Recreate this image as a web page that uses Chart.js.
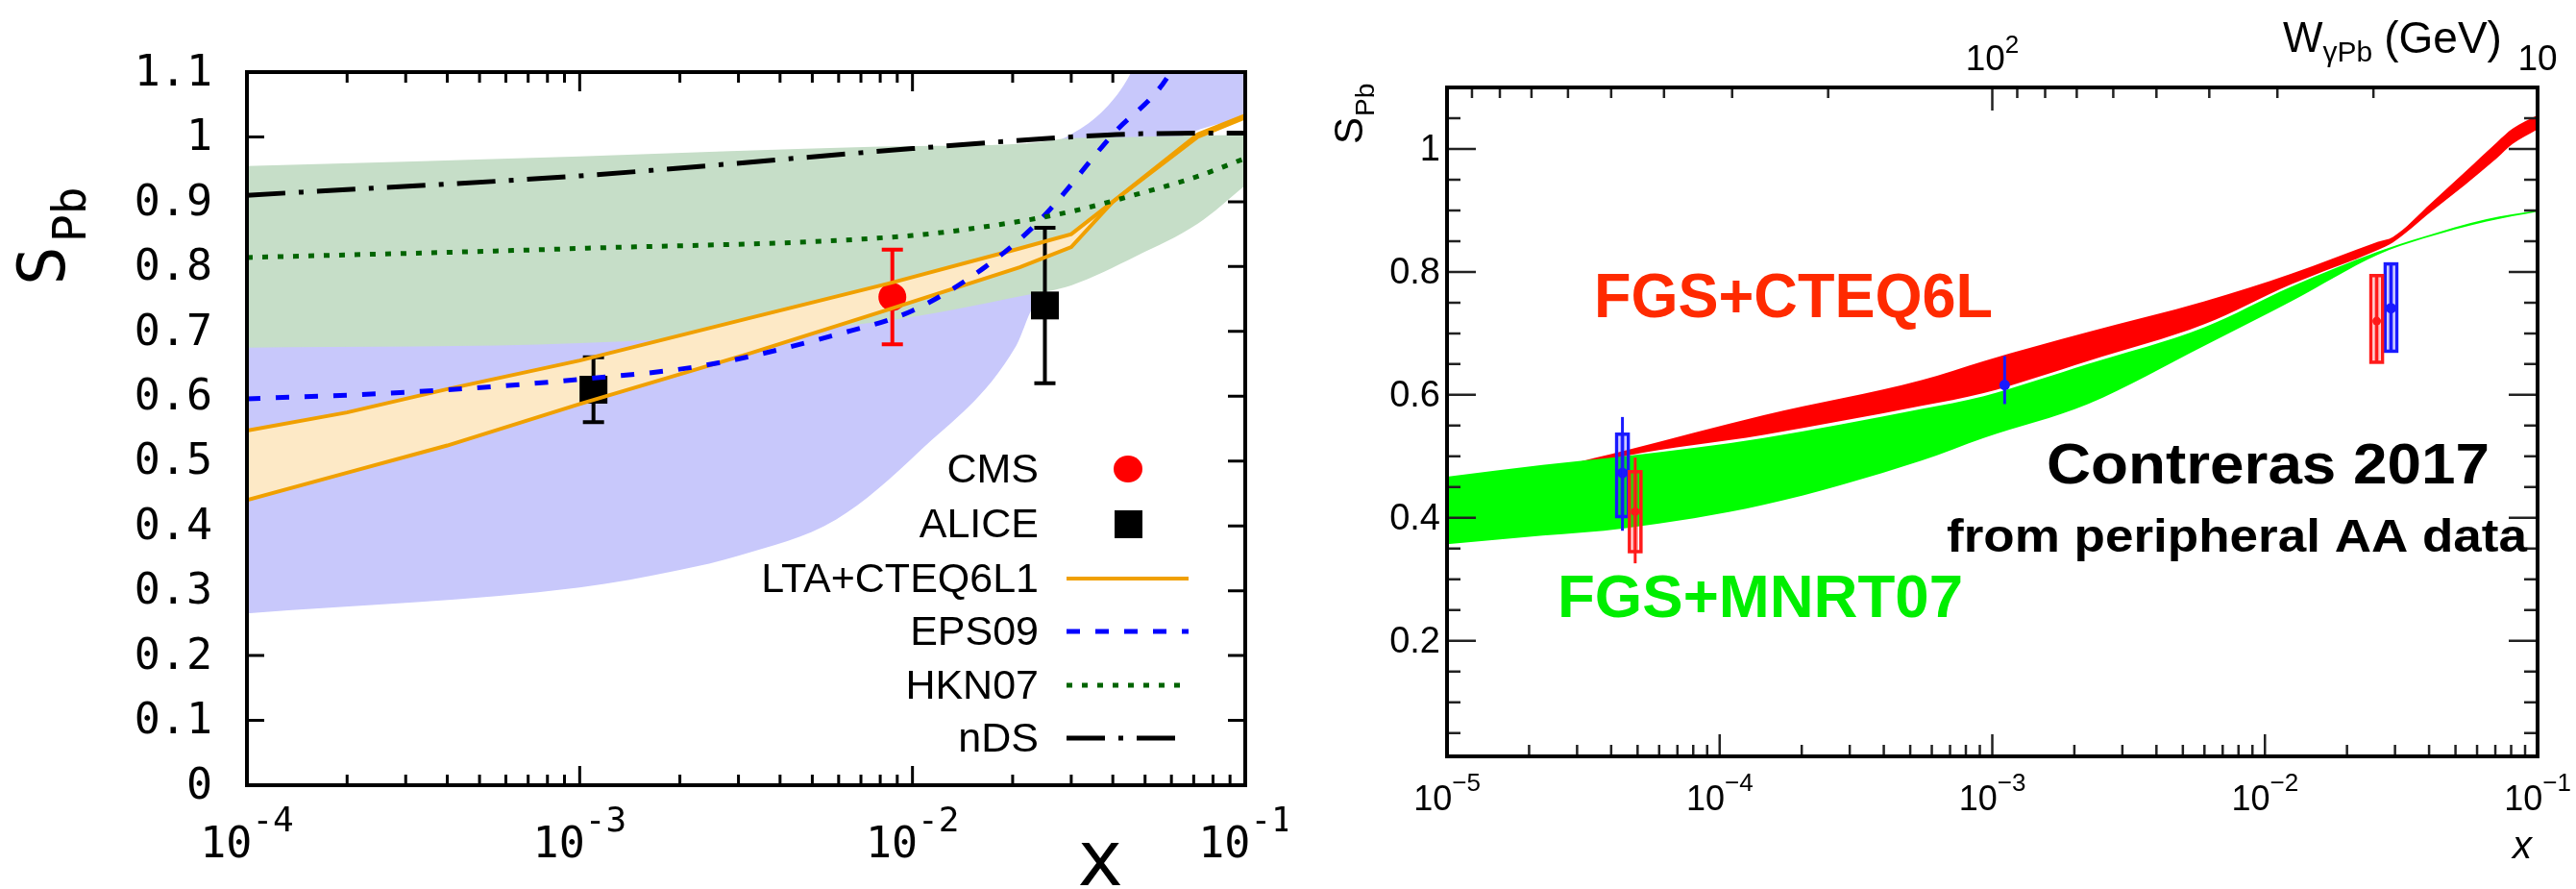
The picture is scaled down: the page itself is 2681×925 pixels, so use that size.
<!DOCTYPE html>
<html>
<head>
<meta charset="utf-8">
<title>S_Pb comparison</title>
<script src="https://cdn.jsdelivr.net/npm/chart.js@4.4.1/dist/chart.umd.min.js"></script>
<style>
  html, body { margin: 0; padding: 0; background: #fff; }
  #wrap { position: relative; width: 2681px; height: 925px; overflow: hidden; }
  canvas { position: absolute; top: 0; }
  #left { left: 0; }
  #right { left: 1340px; }
</style>
</head>
<body>
<div id="wrap">
  <canvas id="left" width="1340" height="925"></canvas>
  <canvas id="right" width="1341" height="925"></canvas>
</div>
<script>
// ---------- left panel: LTA / EPS09 / HKN07 / nDS vs CMS, ALICE ----------
const ltaX    = [1e-4, 2e-4, 4e-4, 1e-3, 3.2e-3, 8.5e-3, 2.1e-2, 3e-2, 4e-2, 7.2e-2, 1e-1];
const ltaHigh = [0.547, 0.575, 0.611, 0.655, 0.72, 0.774, 0.828, 0.85, 0.90, 1.004, 1.033];
const ltaLow  = [0.44, 0.482, 0.524, 0.588, 0.665, 0.734, 0.799, 0.83, 0.90, 1.0, 1.03];

const eps09X = [1e-4, 3e-4, 1e-3, 2.4e-3, 5.9e-3, 1e-2, 1.66e-2, 2.4e-2, 4e-2, 5.9e-2, 1e-1];
const eps09Y = [0.596, 0.606, 0.626, 0.648, 0.695, 0.732, 0.80, 0.87, 1.004, 1.096, 1.35];

const hkn07X = [1e-4, 1e-3, 1e-2, 2e-2, 3e-2, 5e-2, 7e-2, 1e-1];
const hkn07Y = [0.814, 0.828, 0.848, 0.868, 0.885, 0.915, 0.937, 0.967];

const ndsX = [1e-4, 1e-3, 1e-2, 3e-2, 5e-2, 1e-1];
const ndsY = [0.91, 0.94, 0.982, 1.0, 1.005, 1.006];

// EPS09 uncertainty band
const epsBandX    = [1e-4, 1e-3, 2e-3, 3e-3, 5.9e-3, 1.05e-2, 2.05e-2, 2.3e-2, 3e-2, 3.8e-2, 4.5e-2, 6e-2, 7e-2, 1e-1];
const epsBandHigh = [0.85, 0.87, 0.88, 0.89, 0.91, 0.93, 0.97, 0.98, 1.004, 1.044, 1.096, 1.25, 1.32, 1.45];
const epsBandLow  = [0.265, 0.305, 0.332, 0.354, 0.41, 0.515, 0.678, 0.737, 0.79, 0.86, 0.92, 0.99, 1.008, 1.03];

// HKN07 uncertainty band
const hknBandX    = [1e-4, 1e-3, 8e-3, 2.2e-2, 3e-2, 4.7e-2, 7.2e-2, 1e-1];
const hknBandHigh = [0.955, 0.97, 0.985, 0.99, 0.998, 1.0, 1.002, 1.003];
const hknBandLow  = [0.675, 0.682, 0.715, 0.756, 0.771, 0.816, 0.866, 0.925];

const cmsX = [8.7e-3];
const cmsY = [0.753];
const cmsErr = [0.073];
const aliceX = [1.1e-3, 2.5e-2];
const aliceY = [0.61, 0.74];
const aliceErr = [0.05, 0.12];

const leftYTicks  = [0, 0.1, 0.2, 0.3, 0.4, 0.5, 0.6, 0.7, 0.8, 0.9, 1, 1.1];
const leftYLabels = ['0', '0.1', '0.2', '0.3', '0.4', '0.5', '0.6', '0.7', '0.8', '0.9', '1', '1.1'];
const leftXDecades = [1e-4, 1e-3, 1e-2, 1e-1];
const leftXExps    = ['-4', '-3', '-2', '-1'];

// ---------- right panel: FGS+CTEQ6L / FGS+MNRT07 (Contreras 2017) ----------
const ctqX    = [1e-5, 2.24e-5, 2.75e-5, 4.47e-5, 1.45e-4, 5.5e-4, 9.3e-4, 2.24e-3, 6e-3, 1.25e-2, 2.6e-2, 2.95e-2, 4.07e-2, 5.4e-2, 7.1e-2, 8.1e-2, 1e-1];
const ctqHigh = [0.40, 0.47, 0.485, 0.509, 0.567, 0.624, 0.655, 0.702, 0.752, 0.797, 0.849, 0.857, 0.912, 0.962, 1.011, 1.033, 1.055];
const ctqLow  = [0.39, 0.46, 0.475, 0.50, 0.535, 0.582, 0.603, 0.655, 0.715, 0.78, 0.836, 0.848, 0.898, 0.941, 0.985, 1.008, 1.032];

const mnrtX    = [1e-5, 2.24e-5, 4.47e-5, 1.45e-4, 5.5e-4, 9.3e-4, 2.24e-3, 6e-3, 1.25e-2, 2.6e-2, 3.8e-2, 6.5e-2, 1e-1];
const mnrtHigh = [0.467, 0.486, 0.50, 0.53, 0.577, 0.598, 0.65, 0.71, 0.776, 0.833, 0.857, 0.886, 0.90];
const mnrtLow  = [0.357, 0.371, 0.383, 0.421, 0.493, 0.53, 0.585, 0.68, 0.752, 0.828, 0.854, 0.882, 0.898];

// extracted points (stat. bar + syst. box)
const blueX     = [4.4e-5, 1.11e-3, 2.9e-2];
const blueY     = [0.473, 0.616, 0.741];
const blueBarLo = [0.379, 0.585, 0.671];
const blueBarHi = [0.564, 0.663, 0.813];
const blueBoxLo = [0.402, null, 0.671];
const blueBoxHi = [0.536, null, 0.813];
const redX      = [4.9e-5, 2.57e-2];
const redY      = [0.41, 0.72];
const redBarLo  = [0.326, 0.653];
const redBarHi  = [0.498, 0.794];
const redBoxLo  = [0.345, 0.653];
const redBoxHi  = [0.475, 0.794];

const rightYMajor  = [0.2, 0.4, 0.6, 0.8, 1];
const rightYLabels = ['0.2', '0.4', '0.6', '0.8', '1'];
const rightXDecades = [1e-5, 1e-4, 1e-3, 1e-2, 1e-1];
const rightXExps    = ['\u22125', '\u22124', '\u22123', '\u22122', '\u22121'];
const wMajor  = [10, 100];
const wLabels = ['10', '10'];
const wExps   = ['', '2'];

const MONO = '"DejaVu Sans Mono", monospace';
const SANS = '"Liberation Sans", Arial, sans-serif';

function pts(xs, ys) {
    return xs.map(function (x, i) { return { x: x, y: ys[i] }; });
}
function minorLog(decades) {
    const out = [];
    for (let d = 0; d < decades.length - 1; d++) {
        for (let m = 2; m < 10; m++) out.push(m * decades[d]);
    }
    return out;
}
// smooth curves by default, LTA lines stay straight (they have kinks)
function lineSet(label, xs, ys, extra) {
    return Object.assign({
        label: label, data: pts(xs, ys), pointRadius: 0, fill: false,
        cubicInterpolationMode: 'monotone', clip: 0,
        borderColor: 'rgba(0,0,0,0)', borderWidth: 0
    }, extra);
}
function drawSup(ctx, base, sup, cx, baseY, supY, baseFont, supFont) {
    ctx.font = baseFont;
    const wb = ctx.measureText(base).width;
    ctx.font = supFont;
    const ws = sup ? ctx.measureText(sup).width : 0;
    const x0 = cx - (wb + ws) / 2;
    ctx.textAlign = 'left';
    ctx.textBaseline = 'alphabetic';
    ctx.font = baseFont;
    ctx.fillText(base, x0, baseY);
    if (sup) {
        ctx.font = supFont;
        ctx.fillText(sup, x0 + wb, supY);
    }
}
function fitText(ctx, text, left, baseY, width, font) {
    ctx.save();
    ctx.font = font;
    ctx.textAlign = 'left';
    ctx.textBaseline = 'alphabetic';
    const w = ctx.measureText(text).width;
    ctx.translate(left, baseY);
    ctx.scale(width / w, 1);
    ctx.fillText(text, 0, 0);
    ctx.restore();
}

// ---------- left chart ----------
const leftAxes = {
    id: 'leftAxes',
    beforeDatasetsDraw(chart) {
        // gnuplot draws tics under the shaded bands
        const ctx = chart.ctx, a = chart.chartArea, x = chart.scales.x, y = chart.scales.y;
        ctx.save();
        ctx.strokeStyle = '#000';
        ctx.lineWidth = 3;
        ctx.beginPath();
        leftYTicks.forEach(function (v) {
            const py = y.getPixelForValue(v);
            ctx.moveTo(a.left, py); ctx.lineTo(a.left + 18, py);
            ctx.moveTo(a.right, py); ctx.lineTo(a.right - 18, py);
        });
        leftXDecades.forEach(function (v) {
            const px = x.getPixelForValue(v);
            ctx.moveTo(px, a.bottom); ctx.lineTo(px, a.bottom - 20);
            ctx.moveTo(px, a.top); ctx.lineTo(px, a.top + 20);
        });
        minorLog(leftXDecades).forEach(function (v) {
            const px = x.getPixelForValue(v);
            ctx.moveTo(px, a.bottom); ctx.lineTo(px, a.bottom - 11);
            ctx.moveTo(px, a.top); ctx.lineTo(px, a.top + 11);
        });
        ctx.stroke();
        ctx.restore();
    },
    afterDatasetDraw(chart, args) {
        const ds = chart.data.datasets[args.index];
        if (!ds.errBar) return;
        const ctx = chart.ctx, x = chart.scales.x, y = chart.scales.y;
        ctx.save();
        ctx.strokeStyle = ds.backgroundColor;
        ctx.lineWidth = 4;
        ds.data.forEach(function (p, i) {
            const px = x.getPixelForValue(p.x);
            const y1 = y.getPixelForValue(p.y + ds.errBar[i]);
            const y2 = y.getPixelForValue(p.y - ds.errBar[i]);
            ctx.beginPath();
            ctx.moveTo(px, y1); ctx.lineTo(px, y2);
            ctx.moveTo(px - 11, y1); ctx.lineTo(px + 11, y1);
            ctx.moveTo(px - 11, y2); ctx.lineTo(px + 11, y2);
            ctx.stroke();
        });
        ctx.restore();
    },
    afterDraw(chart) {
        const ctx = chart.ctx, a = chart.chartArea, x = chart.scales.x, y = chart.scales.y;
        const dsets = chart.data.datasets;
        ctx.save();
        // frame
        ctx.strokeStyle = '#000';
        ctx.lineWidth = 4;
        ctx.strokeRect(a.left, a.top, a.right - a.left, a.bottom - a.top);

        // tick labels
        ctx.fillStyle = '#000';
        ctx.font = '45px ' + MONO;
        ctx.textAlign = 'right';
        ctx.textBaseline = 'middle';
        leftYTicks.forEach(function (v, i) {
            ctx.fillText(leftYLabels[i], a.left - 36, y.getPixelForValue(v) + 2);
        });
        leftXDecades.forEach(function (v, i) {
            drawSup(ctx, '10', leftXExps[i], x.getPixelForValue(v), a.bottom + 75, a.bottom + 48,
                '45px ' + MONO, '36px ' + MONO);
        });

        // axis titles
        ctx.font = '80px ' + MONO;
        ctx.textAlign = 'center';
        ctx.textBaseline = 'alphabetic';
        ctx.fillText('x', 1145, 921);

        ctx.save();
        ctx.translate(67, 297);
        ctx.rotate(-Math.PI / 2);
        ctx.textAlign = 'left';
        ctx.font = '68px ' + MONO;
        ctx.fillText('S', 0, 0);
        const sw = ctx.measureText('S').width;
        ctx.font = '48px ' + MONO;
        ctx.fillText('Pb', sw + 4, 22);
        ctx.restore();

        // legend (text right aligned, sample on the right)
        const rows = [
            { i: 6, y: 488 }, { i: 7, y: 545 }, { i: 8, y: 602 },
            { i: 10, y: 657 }, { i: 11, y: 713 }, { i: 12, y: 768 }
        ];
        ctx.font = '43px ' + SANS;
        ctx.textAlign = 'right';
        ctx.textBaseline = 'middle';
        rows.forEach(function (r) {
            const d = dsets[r.i];
            ctx.fillStyle = '#000';
            ctx.fillText(d.label, 1081, r.y + 2);
            if (d.showLine === false) {
                ctx.fillStyle = d.backgroundColor;
                if (d.pointStyle === 'rect') {
                    ctx.fillRect(1160, r.y - 14, 29, 29);
                } else {
                    ctx.beginPath();
                    ctx.ellipse(1174, r.y, 15, 14, 0, 0, Math.PI * 2);
                    ctx.fill();
                }
            } else {
                ctx.save();
                ctx.strokeStyle = d.borderColor;
                ctx.lineWidth = d.borderWidth;
                ctx.setLineDash(d.borderDash || []);
                ctx.beginPath();
                ctx.moveTo(1110, r.y); ctx.lineTo(1237, r.y);
                ctx.stroke();
                ctx.restore();
            }
        });
        ctx.restore();
    }
};

new Chart(document.getElementById('left'), {
    type: 'line',
    data: {
        datasets: [
            lineSet('EPS09 band low', epsBandX, epsBandLow, { order: 20 }),
            lineSet('EPS09 band', epsBandX, epsBandHigh, { order: 19, fill: '-1', backgroundColor: '#c8c8fb' }),
            lineSet('HKN07 band low', hknBandX, hknBandLow, { order: 18 }),
            lineSet('HKN07 band', hknBandX, hknBandHigh, { order: 17, fill: '-1', backgroundColor: '#c6dec8' }),
            lineSet('LTA band low', ltaX, ltaLow, { order: 16, cubicInterpolationMode: 'default', tension: 0 }),
            lineSet('LTA band', ltaX, ltaHigh, { order: 15, fill: '-1', backgroundColor: '#fde9c6', cubicInterpolationMode: 'default', tension: 0 }),
            {
                label: 'CMS', data: pts(cmsX, cmsY), showLine: false, order: 14,
                pointStyle: 'circle', pointRadius: 14.5, backgroundColor: '#ff0000',
                pointBorderWidth: 0, errBar: cmsErr
            },
            {
                label: 'ALICE', data: pts(aliceX, aliceY), showLine: false, order: 13,
                pointStyle: 'rect', pointRadius: 20.5, backgroundColor: '#000000',
                pointBorderWidth: 0, errBar: aliceErr
            },
            lineSet('LTA+CTEQ6L1', ltaX, ltaHigh, { order: 12, borderColor: '#f0a000', borderWidth: 4, cubicInterpolationMode: 'default', tension: 0 }),
            lineSet('LTA+CTEQ6L1 low', ltaX, ltaLow, { order: 11, borderColor: '#f0a000', borderWidth: 4, cubicInterpolationMode: 'default', tension: 0 }),
            lineSet('EPS09', eps09X, eps09Y, { order: 10, borderColor: '#0000ff', borderWidth: 5, borderDash: [14, 16] }),
            lineSet('HKN07', hkn07X, hkn07Y, { order: 9, borderColor: '#006400', borderWidth: 5, borderDash: [6, 10] }),
            lineSet('nDS', ndsX, ndsY, { order: 8, borderColor: '#000000', borderWidth: 5, borderDash: [40, 14, 5, 14] })
        ]
    },
    options: {
        responsive: false,
        animation: false,
        events: [],
        devicePixelRatio: 1,
        layout: { padding: { left: 257, right: 44, top: 75, bottom: 108 } },
        plugins: { legend: { display: false }, tooltip: { enabled: false } },
        scales: {
            x: { type: 'logarithmic', min: 1e-4, max: 1e-1, display: false },
            y: { type: 'linear', min: 0, max: 1.1, display: false }
        }
    },
    plugins: [leftAxes]
});

// ---------- right chart ----------
const rightAxes = {
    id: 'rightAxes',
    afterDatasetDraw(chart, args) {
        const ds = chart.data.datasets[args.index];
        if (!ds.barLo) return;
        const ctx = chart.ctx, x = chart.scales.x, y = chart.scales.y;
        ctx.save();
        ds.data.forEach(function (p, i) {
            const px = x.getPixelForValue(p.x);
            ctx.strokeStyle = ds.backgroundColor;
            ctx.lineWidth = 3;
            ctx.beginPath();
            ctx.moveTo(px, y.getPixelForValue(ds.barLo[i]));
            ctx.lineTo(px, y.getPixelForValue(ds.barHi[i]));
            ctx.stroke();
            if (ds.boxLo[i] !== null) {
                const t = y.getPixelForValue(ds.boxHi[i]);
                const b = y.getPixelForValue(ds.boxLo[i]);
                ctx.lineWidth = 3.5;
                ctx.strokeRect(px - 6, t, 12, b - t);
                ctx.globalAlpha = 0.45;
                ctx.lineWidth = 2;
                ctx.beginPath();
                ctx.moveTo(px - 2, t); ctx.lineTo(px - 2, b);
                ctx.moveTo(px + 2, t); ctx.lineTo(px + 2, b);
                ctx.stroke();
                ctx.globalAlpha = 1;
            }
        });
        ctx.restore();
    },
    afterDraw(chart) {
        const ctx = chart.ctx, a = chart.chartArea;
        const x = chart.scales.x, y = chart.scales.y, w = chart.scales.w;
        ctx.save();
        ctx.strokeStyle = '#222';
        ctx.lineWidth = 2.5;
        ctx.beginPath();
        // y ticks, major every 0.2, minor every 0.05
        for (let k = 1; k <= 21; k++) {
            const v = k * 0.05;
            const len = (k % 4 === 0) ? 30 : 14;
            const py = y.getPixelForValue(v);
            ctx.moveTo(a.left, py); ctx.lineTo(a.left + len, py);
            ctx.moveTo(a.right, py); ctx.lineTo(a.right - len, py);
        }
        rightXDecades.forEach(function (v) {
            const px = x.getPixelForValue(v);
            ctx.moveTo(px, a.bottom); ctx.lineTo(px, a.bottom - 23);
        });
        minorLog(rightXDecades).forEach(function (v) {
            const px = x.getPixelForValue(v);
            ctx.moveTo(px, a.bottom); ctx.lineTo(px, a.bottom - 12);
        });
        wMajor.forEach(function (v) {
            const px = w.getPixelForValue(v);
            ctx.moveTo(px, a.top); ctx.lineTo(px, a.top + 24);
        });
        minorLog([10, 100, 1000]).forEach(function (v) {
            const px = w.getPixelForValue(v);
            ctx.moveTo(px, a.top); ctx.lineTo(px, a.top + 11);
        });
        ctx.stroke();

        ctx.strokeStyle = '#000';
        ctx.lineWidth = 4;
        ctx.strokeRect(a.left, a.top, a.right - a.left, a.bottom - a.top);

        // labels
        ctx.fillStyle = '#000';
        ctx.font = '38px ' + SANS;
        ctx.textAlign = 'right';
        ctx.textBaseline = 'middle';
        rightYMajor.forEach(function (v, i) {
            ctx.fillText(rightYLabels[i], a.left - 7, y.getPixelForValue(v) + 2);
        });
        rightXDecades.forEach(function (v, i) {
            drawSup(ctx, '10', rightXExps[i], x.getPixelForValue(v), a.bottom + 56, a.bottom + 36,
                '36px ' + SANS, '26px ' + SANS);
        });
        wMajor.forEach(function (v, i) {
            drawSup(ctx, wLabels[i], wExps[i], w.getPixelForValue(v), a.top - 18, a.top - 36,
                '37px ' + SANS, '26px ' + SANS);
        });

        // axis titles
        ctx.textAlign = 'left';
        ctx.textBaseline = 'alphabetic';
        ctx.font = '44px ' + SANS;
        ctx.fillText('W', 1036, 54);
        let tx = 1036 + ctx.measureText('W').width;
        ctx.font = '30px ' + SANS;
        ctx.fillText('\u03b3Pb', tx, 64);
        tx += ctx.measureText('\u03b3Pb').width + 12;
        ctx.font = '46px ' + SANS;
        ctx.fillText('(GeV)', tx, 55);

        ctx.font = 'italic 40px ' + SANS;
        ctx.textAlign = 'center';
        ctx.fillText('x', 1285, 893);

        ctx.save();
        ctx.translate(78, 150);
        ctx.rotate(-Math.PI / 2);
        ctx.textAlign = 'left';
        ctx.font = '42px ' + SANS;
        ctx.fillText('S', 0, 0);
        const sw = ctx.measureText('S').width;
        ctx.font = '28px ' + SANS;
        ctx.fillText('Pb', sw + 1, 12);
        ctx.restore();

        // annotations
        ctx.fillStyle = '#ff2a00';
        fitText(ctx, 'FGS+CTEQ6L', 319, 330, 415, 'bold 65px ' + SANS);
        ctx.fillStyle = '#00ee00';
        fitText(ctx, 'FGS+MNRT07', 281, 642, 422, 'bold 63px ' + SANS);
        ctx.fillStyle = '#000';
        fitText(ctx, 'Contreras 2017', 790, 503, 461, 'bold 60px ' + SANS);
        fitText(ctx, 'from peripheral AA data', 686, 574, 604, 'bold 49px ' + SANS);
        ctx.restore();
    }
};

new Chart(document.getElementById('right'), {
    type: 'line',
    data: {
        datasets: [
            lineSet('CTEQ6L low', ctqX, ctqLow, { order: 20 }),
            lineSet('FGS+CTEQ6L', ctqX, ctqHigh, { order: 19, fill: '-1', backgroundColor: '#ff0000' }),
            lineSet('MNRT07 low', mnrtX, mnrtLow, { order: 18 }),
            lineSet('FGS+MNRT07', mnrtX, mnrtHigh, { order: 17, fill: '-1', backgroundColor: '#00ff00' }),
            {
                label: 'extracted (blue)', data: pts(blueX, blueY), showLine: false, order: 5,
                pointStyle: 'circle', pointRadius: 5.5, backgroundColor: '#1a1aff', pointBorderWidth: 0,
                barLo: blueBarLo, barHi: blueBarHi, boxLo: blueBoxLo, boxHi: blueBoxHi
            },
            {
                label: 'extracted (red)', data: pts(redX, redY), showLine: false, order: 4,
                pointStyle: 'circle', pointRadius: 4.5, backgroundColor: '#ff1a1a', pointBorderWidth: 0,
                barLo: redBarLo, barHi: redBarHi, boxLo: redBoxLo, boxHi: redBoxHi
            }
        ]
    },
    options: {
        responsive: false,
        animation: false,
        events: [],
        devicePixelRatio: 1,
        layout: { padding: { left: 166, right: 40, top: 91, bottom: 138 } },
        plugins: { legend: { display: false }, tooltip: { enabled: false } },
        scales: {
            x: { type: 'logarithmic', min: 1e-5, max: 1e-1, display: false },
            y: { type: 'linear', min: 0.012, max: 1.1, display: false },
            w: { type: 'logarithmic', axis: 'x', position: 'top', min: 10, max: 1000, reverse: true, display: false }
        }
    },
    plugins: [rightAxes]
});
</script>
</body>
</html>
